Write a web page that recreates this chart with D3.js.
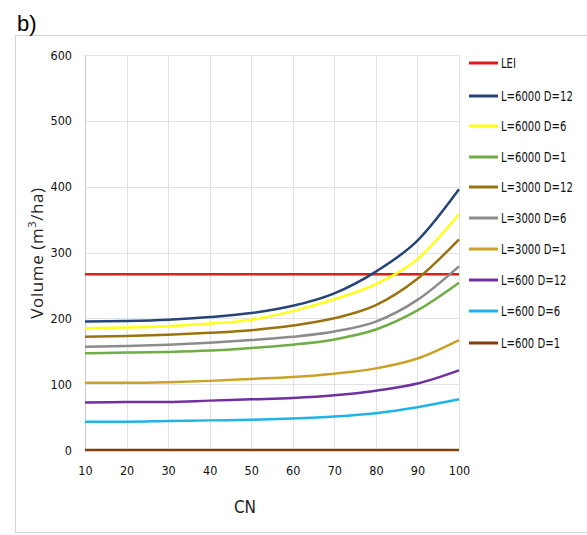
<!DOCTYPE html>
<html><head><meta charset="utf-8">
<script src="https://cdn.jsdelivr.net/npm/d3@7"></script>
<style>
body{margin:0;background:#fff;}
svg{display:block;}
.tick text{font-family:"Liberation Sans Narrow","DejaVu Sans Condensed",sans-serif;}
</style></head>
<body><svg id="c" width="587" height="535"></svg>
<script>
const cn = [10,20,30,40,50,60,70,80,90,100];
const seriesNames = ["LEI","L=6000 D=12","L=6000 D=6","L=6000 D=1","L=3000 D=12","L=3000 D=6","L=3000 D=1","L=600 D=12","L=600 D=6","L=600 D=1"];
const lei      = [267,267,267,267,267,267,267,267,267,267];
const l6000d12 = [195,196,198,202,208,219,238,271,318,396];
const l6000d6  = [185,186,188,192,198,211,229,252,290,358];
const l6000d1  = [147,148,149,151,155,160,168,183,212,254];
const l3000d12 = [172,173,175,178,182,189,200,220,260,320];
const l3000d6  = [157,158,160,163,167,172,180,195,228,279];
const l3000d1  = [102,102,103,105,108,111,116,124,139,167];
const l600d12  = [72,73,73,75,77,79,83,90,101,121];
const l600d6   = [43,43,44,45,46,48,51,56,65,77];
const l600d1   = [0,0,0,0,0,0,0,0,0,0];
const yTicks = [0,100,200,300,400,500,600];
const xTicks = cn;
const colors = ["#E31A1C","#264478","#FFFF1A","#70AD47","#9A7311","#8C8C8C","#C9A227","#7030A0","#1FB4E8","#843C0C"];
const allSeries = [lei,l6000d12,l6000d6,l6000d1,l3000d12,l3000d6,l3000d1,l600d12,l600d6,l600d1];

const svg = d3.select("#c");
// frame
svg.append("rect").attr("x",15.5).attr("y",35.5).attr("width",585).attr("height",497)
  .attr("fill","#fff").attr("stroke","#d4d4d4").attr("stroke-width",1);
svg.append("text").attr("x",17).attr("y",31).text("b)")
  .attr("font-family","Liberation Sans, Arial, sans-serif").attr("font-size",22).attr("fill","#000");

const x = d3.scaleLinear().domain([10,100]).range([85,459]);
const y = d3.scaleLinear().domain([0,600]).range([450,55]);

// grid
const g = svg.append("g");
g.selectAll(".hg").data(yTicks).enter().append("line")
  .attr("x1",x(10)).attr("x2",x(100)).attr("y1",d=>Math.round(y(d))+0.5).attr("y2",d=>Math.round(y(d))+0.5)
  .attr("stroke","#e2e2e2").attr("stroke-width",1);
g.selectAll(".vg").data(xTicks).enter().append("line")
  .attr("y1",y(0)).attr("y2",y(600)).attr("x1",d=>Math.round(x(d))+0.5).attr("x2",d=>Math.round(x(d))+0.5)
  .attr("stroke","#e2e2e2").attr("stroke-width",1);
g.append("line").attr("x1",Math.round(x(10))+0.5).attr("x2",Math.round(x(10))+0.5).attr("y1",y(0)).attr("y2",y(600))
  .attr("stroke","#c8c8c8");

// axes
const ya = svg.append("g").attr("transform",`translate(${x(10)},0)`)
  .call(d3.axisLeft(y).tickValues(yTicks).tickSize(0).tickPadding(13));
ya.select(".domain").remove();
ya.selectAll("text").attr("font-size",12.5).attr("fill","#111");
const xa = svg.append("g").attr("transform",`translate(0,${y(0)})`)
  .call(d3.axisBottom(x).tickValues(xTicks).tickSize(0).tickPadding(16));
xa.select(".domain").remove();
xa.selectAll("text").attr("font-size",12.5).attr("fill","#111");

// axis titles
svg.append("text").attr("transform","translate(43,253) rotate(-90)").attr("text-anchor","middle")
  .attr("font-family","Open Sans, DejaVu Sans, sans-serif").attr("font-size",17).attr("fill","#222")
  .attr("letter-spacing",0.6)
  .html('Volume (m<tspan dy="-7" font-size="11">3</tspan><tspan dy="7">/ha)</tspan>');
svg.append("text").attr("x",245).attr("y",513).attr("text-anchor","middle")
  .attr("font-family","Liberation Sans Narrow, DejaVu Sans Condensed, sans-serif").attr("font-size",17).attr("fill","#222")
  .text("CN");

// lines
const line = d3.line().x((d,i)=>x(cn[i])).y(d=>y(d)).curve(d3.curveMonotoneX);
allSeries.forEach((s,i)=>{
  svg.append("path").attr("d",line(s)).attr("fill","none")
    .attr("stroke",colors[i]).attr("stroke-width",2.5);
});

// legend
const lg = svg.append("g");
seriesNames.forEach((n,i)=>{
  const yy = [63,96,126,157,187,218,249,280,311,343][i];
  lg.append("line").attr("x1",469).attr("x2",498).attr("y1",yy).attr("y2",yy)
    .attr("stroke",colors[i]).attr("stroke-width",3);
  lg.append("text").attr("transform",`translate(501,${yy}) scale(0.83,1)`).attr("dy","0.35em")
    .attr("font-family","Liberation Sans Narrow, DejaVu Sans Condensed, sans-serif")
    .attr("font-size",13.5).attr("fill","#111").text(n);
});
</script></body></html>
